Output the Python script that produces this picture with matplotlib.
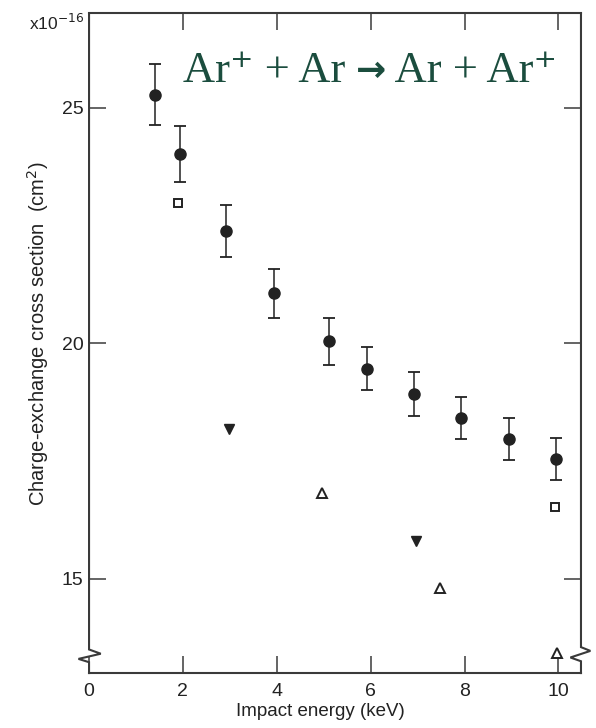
import matplotlib
matplotlib.use("Agg")
import matplotlib.pyplot as plt

# Measured charge-exchange cross sections (units of 1e-16 cm^2)
energy = [1.4, 1.93, 2.92, 3.93, 5.12, 5.93, 6.93, 7.93, 8.95, 9.95]
sigma = [25.28, 24.02, 22.39, 21.06, 20.04, 19.46, 18.93, 18.41, 17.97, 17.54]
sigma_err = [0.64, 0.60, 0.55, 0.52, 0.50, 0.46, 0.47, 0.45, 0.44, 0.44]

# Other data sets
sq_energy = [1.9, 9.93]
sq_sigma = [22.97, 16.53]
dtri_energy = [2.99, 6.97]
dtri_sigma = [18.19, 15.80]
utri_energy = [4.97, 7.48, 9.96]
utri_sigma = [16.83, 14.81, 13.43]

xticks = [0, 2, 4, 6, 8, 10]
yticks = [15, 20, 25]

ink = "#222222"
axis_col = "#3a3a3a"
title_col = "#1b4d3e"
plt.rcParams["font.family"] = ["Liberation Sans", "DejaVu Sans"]

fig = plt.figure(figsize=(5.96, 7.28), dpi=100)
ax = fig.add_axes([0.1494, 0.0755, 0.9748 - 0.1494, 0.9815 - 0.0755])

xmin, xmax = 0.0, 10.48
ymin, ymax = 13.0, 27.0
ax.set_xlim(xmin, xmax)
ax.set_ylim(ymin, ymax)

ax.errorbar(energy, sigma, yerr=sigma_err, fmt="o", color=ink, ms=8,
            ecolor=ink, elinewidth=1.1, capsize=4.4, capthick=1.3, zorder=3)
ax.plot(sq_energy, sq_sigma, "s", ms=6, mfc="white", mec=ink, mew=1.4, zorder=3)
ax.plot(dtri_energy, dtri_sigma, "v", ms=7, color=ink, zorder=3)
ax.plot(utri_energy, utri_sigma, "^", ms=7, mfc="white", mec=ink, mew=1.4, zorder=4)

# Axes frame: left and right sides carry a break mark near the bottom
for side in ("left", "right"):
    ax.spines[side].set_visible(False)
for side in ("top", "bottom"):
    ax.spines[side].set_color(axis_col)
    ax.spines[side].set_linewidth(1.5)

dx = 0.25
ax.plot([xmin, xmin, xmin + dx, xmin - 0.9 * dx, xmin, xmin],
        [ymax, 13.50, 13.41, 13.30, 13.23, ymin],
        color=axis_col, lw=1.5, clip_on=False, solid_joinstyle="miter")
ax.plot([xmax, xmax, xmax + 0.8 * dx, xmax - 0.9 * dx, xmax, xmax],
        [ymax, 13.55, 13.47, 13.33, 13.25, ymin],
        color=axis_col, lw=1.5, clip_on=False, solid_joinstyle="miter")

ax.set_xticks(xticks)
ax.set_yticks(yticks)
ax.tick_params(direction="in", length=12, width=1.1, color=axis_col,
               labelsize=14, labelcolor=ink, top=True, right=True)
ax.tick_params(axis="x", pad=7)
ax.tick_params(axis="y", pad=4)

ax.set_xlabel("Impact energy (keV)", fontsize=13.5, color=ink, labelpad=2)
ax.xaxis.set_label_coords(0.47, -0.045)
ax.set_ylabel("Charge-exchange cross section  (cm$^2$)", fontsize=14.5,
              color=ink)
ax.yaxis.set_label_coords(-0.078, 0.514)

fig.text(0.049, 0.969, r"x10$^{-16}$", fontsize=12.5, color=ink,
         ha="left", va="center")

# Reaction label: the arrow is set in a heavier face than the species
title_y = 0.913
title_kw = dict(transform=ax.transAxes, va="center", color=title_col)
serif = ["Liberation Serif", "DejaVu Serif"]
left_part = ax.text(0.19, title_y, "Ar\u207a + Ar ", ha="left", fontsize=32,
                    family=serif, **title_kw)
fig.canvas.draw()
renderer = fig.canvas.get_renderer()
inv = ax.transAxes.inverted()
bb = left_part.get_window_extent(renderer)
x_arrow = inv.transform((bb.x1, bb.y0))[0]
arrow = ax.text(x_arrow, title_y, "\u2192", ha="left", fontsize=26,
                family=["DejaVu Sans"], weight="bold", **title_kw)
bb = arrow.get_window_extent(renderer)
x_right = inv.transform((bb.x1, bb.y0))[0]
ax.text(x_right, title_y, " Ar + Ar\u207a", ha="left", fontsize=32,
        family=serif, **title_kw)

fig.savefig("out.png", dpi=100)
